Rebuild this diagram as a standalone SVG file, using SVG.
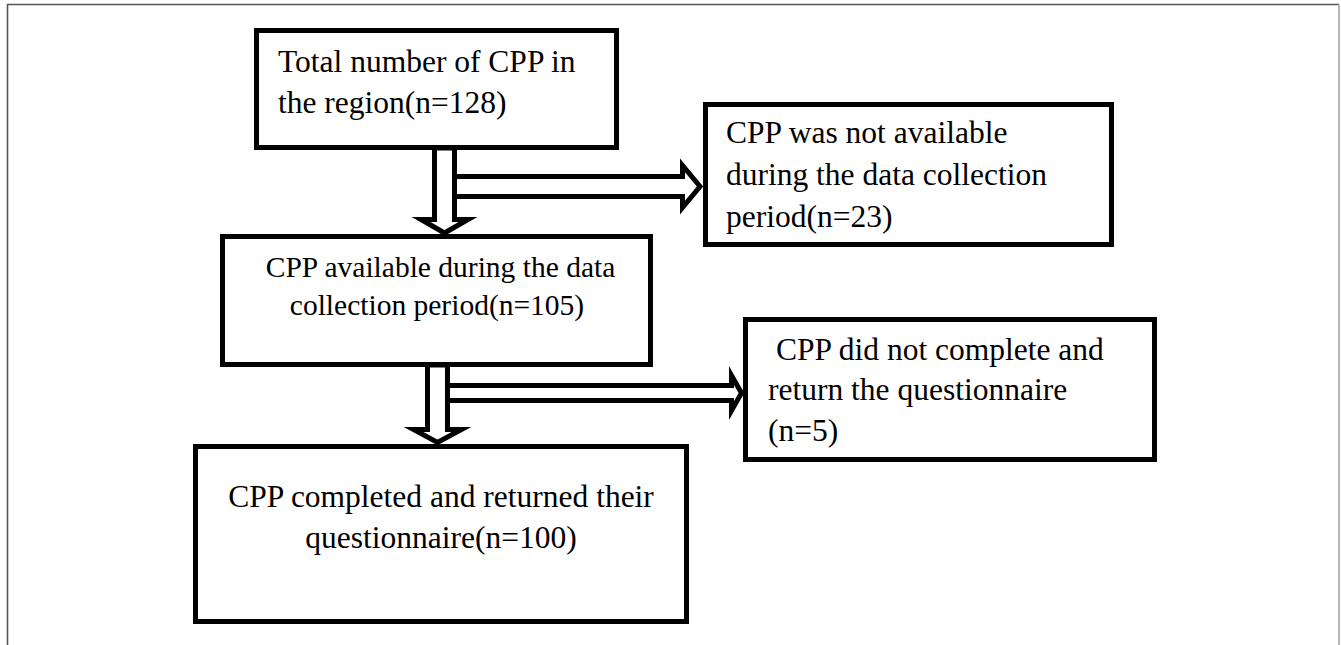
<svg xmlns="http://www.w3.org/2000/svg" width="1341" height="645" viewBox="0 0 1341 645">
<style>
.box{fill:#fff;stroke:#000;stroke-width:5;stroke-linejoin:miter}
.arr{fill:#fff;stroke:#000;stroke-width:5;stroke-linejoin:miter;stroke-miterlimit:10}
text{font-family:"Liberation Serif","Times New Roman",serif;font-size:31.5px;fill:#000}
.sm{font-size:29.5px}
</style>
<rect x="0" y="0" width="1341" height="645" fill="#fff"/>
<g id="frame">
<path d="M7.5,645 V4.5 H1339" fill="none" stroke="#555" stroke-width="1.6"/>
<path d="M1339,4.5 V645" fill="none" stroke="#999" stroke-width="1.4"/>
</g>
<g id="connectors">
<polygon class="arr" points="434.5,148 454.5,148 454.5,219.5 468,219.5 444.5,233 421,219.5 434.5,219.5"/>
<polygon class="arr" points="454.5,176.5 682.5,176.5 682.5,165.5 700,186.5 682.5,207.5 682.5,196.5 454.5,196.5"/>
<polygon class="arr" points="427.5,365 447.5,365 447.5,429.5 461.5,429.5 437.5,442.5 413.5,429.5 427.5,429.5"/>
<polygon class="arr" points="447.5,385.5 731.5,385.5 731.5,375.5 741.5,393 731.5,410.5 731.5,400.5 447.5,400.5"/>
</g>
<g id="n1">
<rect class="box" x="256.5" y="30.5" width="360" height="117"/>
<text x="278" y="72">Total number of CPP in</text>
<text x="278" y="113">the region(n=128)</text>
</g>
<g id="n2">
<rect class="box" x="222.5" y="236.5" width="428" height="128"/>
<text class="sm" x="440.5" y="277" text-anchor="middle">CPP available during the data</text>
<text class="sm" x="437" y="315" text-anchor="middle">collection period(n=105)</text>
</g>
<g id="n3">
<rect class="box" x="705.5" y="104.5" width="406" height="140"/>
<text x="726" y="143">CPP was not available</text>
<text x="726" y="185">during the data collection</text>
<text x="726" y="227">period(n=23)</text>
</g>
<g id="n5">
<rect class="box" x="745.5" y="319.5" width="409" height="140"/>
<text x="776" y="360">CPP did not complete and</text>
<text x="768" y="400">return the questionnaire</text>
<text x="768" y="441">(n=5)</text>
</g>
<g id="n4">
<rect class="box" x="195.5" y="446.5" width="491" height="175"/>
<text x="441" y="507" text-anchor="middle">CPP completed and returned their</text>
<text x="441" y="548" text-anchor="middle">questionnaire(n=100)</text>
</g>
</svg>
